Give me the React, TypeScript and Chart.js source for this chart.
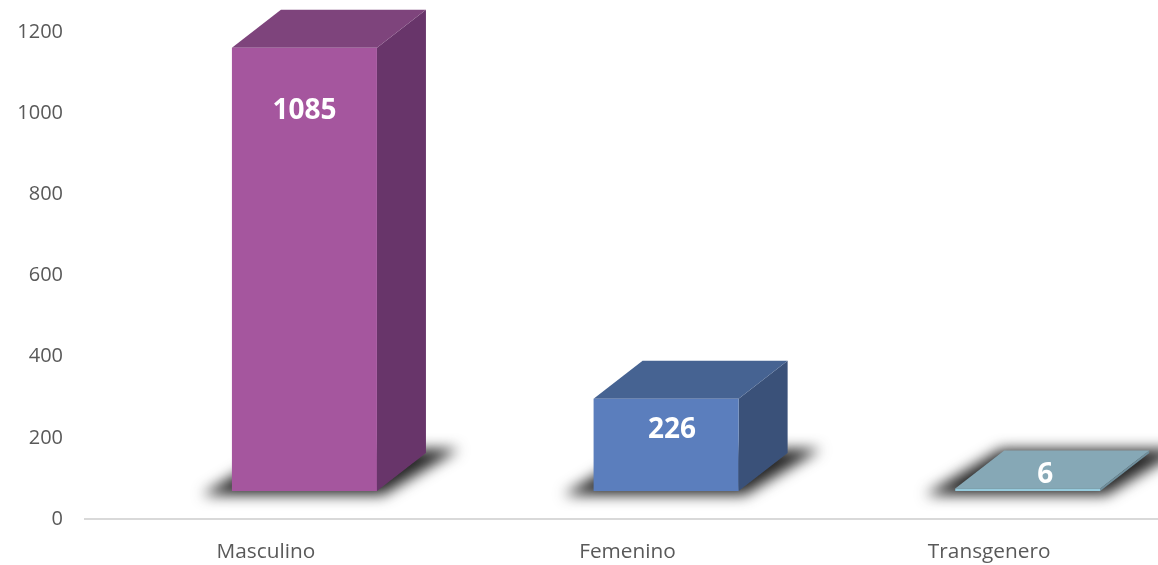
import React, { useEffect, useRef } from "react";
import { Chart, registerables } from "chart.js";

Chart.register(...registerables);

const categories = ["Masculino", "Femenino", "Transgenero"];
const values = [1085, 226, 6];
const axisTicks = [0, 200, 400, 600, 800, 1000, 1200];

const frontColors = ["#A5569E", "#5B7EBD", "#96CBDD"];
const topColors = ["#7E447C", "#466392", "#86A8B6"];
const sideColors = ["#68356A", "#3A5179", "#6F8F9D"];

const DX = 49;
const DY = 38;
const SHIFT = 38.6;
const labelNudgeX = [0, 6, 17.5];
const labelDrop = [63, 31, -14];

const box3d = {
  id: "box3d",
  beforeDatasetDraw(chart: any) {
    const ctx = chart.ctx;
    const bars = chart.getDatasetMeta(0).data;
    ctx.save();
    ctx.translate(SHIFT, 0);
    bars.forEach((bar: any, i: number) => {
      const half = bar.width / 2;
      const x0 = bar.x - half;
      const x1 = bar.x + half;
      const yTop = bar.y;
      const yBase = bar.base;
      // floor shadow
      ctx.save();
      ctx.filter = "blur(7px)";
      ctx.fillStyle = "#262626";
      ctx.beginPath();
      ctx.moveTo(x0 - 30, yBase + 4);
      ctx.lineTo(x1 + 6, yBase + 4);
      ctx.lineTo(x1 + 82, yBase - 42);
      ctx.lineTo(x0 + 46, yBase - 42);
      ctx.closePath();
      ctx.fill();
      ctx.restore();
      // side face
      ctx.fillStyle = sideColors[i];
      ctx.beginPath();
      ctx.moveTo(x1, yTop);
      ctx.lineTo(x1 + DX, yTop - DY);
      ctx.lineTo(x1 + DX, yBase - DY);
      ctx.lineTo(x1, yBase);
      ctx.closePath();
      ctx.fill();
      // top face
      ctx.fillStyle = topColors[i];
      ctx.beginPath();
      ctx.moveTo(x0, yTop);
      ctx.lineTo(x0 + DX, yTop - DY);
      ctx.lineTo(x1 + DX, yTop - DY);
      ctx.lineTo(x1, yTop);
      ctx.closePath();
      ctx.fill();
    });
  },
  afterDatasetDraw(chart: any) {
    const ctx = chart.ctx;
    const bars = chart.getDatasetMeta(0).data;
    bars.forEach((bar: any, i: number) => {
      ctx.fillStyle = "#FFFFFF";
      ctx.font = "bold 28px 'Open Sans'";
      ctx.textAlign = "center";
      ctx.textBaseline = "middle";
      ctx.fillText(String(values[i]), bar.x + labelNudgeX[i], bar.y + labelDrop[i]);
    });
    ctx.restore();
  },
};

export default function App() {
  const ref = useRef<HTMLCanvasElement>(null);
  useEffect(() => {
    const chart = new Chart(ref.current as HTMLCanvasElement, {
      type: "bar",
      data: {
        labels: categories,
        datasets: [
          {
            data: values,
            backgroundColor: frontColors,
            borderWidth: 0,
            barPercentage: 0.401,
            categoryPercentage: 1,
            yAxisID: "bars",
            clip: false,
          } as any,
        ],
      },
      options: {
        responsive: false,
        animation: false,
        layout: { padding: { top: 32, right: 0, bottom: 0, left: 0 } },
        plugins: { legend: { display: false }, tooltip: { enabled: false } },
        scales: {
          x: {
            grid: { display: false, drawTicks: false },
            border: { color: "#D9D9D9", width: 2 },
            ticks: { color: "#595959", font: { family: "'Open Sans'", size: 20.8 }, padding: 21, maxRotation: 0 },
            afterFit(s: any) {
              s.height = 46;
              s.paddingLeft = 0;
              s.paddingRight = 0;
            },
          },
          y: {
            min: 0,
            max: 1200,
            afterBuildTicks(s: any) {
              s.ticks = axisTicks.map((value) => ({ value }));
            },
            grid: { display: false, drawTicks: false },
            border: { display: false },
            ticks: {
              color: "#595959",
              font: { family: "'Open Sans'", size: 20 },
              padding: 22,
              callback: (v: any) => String(v),
            },
            afterFit(s: any) {
              s.width = 85;
              s.paddingTop = 0;
              s.paddingBottom = 0;
            },
          },
          bars: {
            display: false,
            position: "left",
            min: -68.5,
            max: 1123.5,
          },
        },
      } as any,
      plugins: [box3d],
    });
    return () => chart.destroy();
  }, []);
  return (
    <div style={{ position: "absolute", left: 0, top: 0, width: 1158, height: 565, overflow: "hidden", background: "#fff" }}>
      <canvas ref={ref} width={1170} height={565} style={{ display: "block" }} />
    </div>
  );
}
